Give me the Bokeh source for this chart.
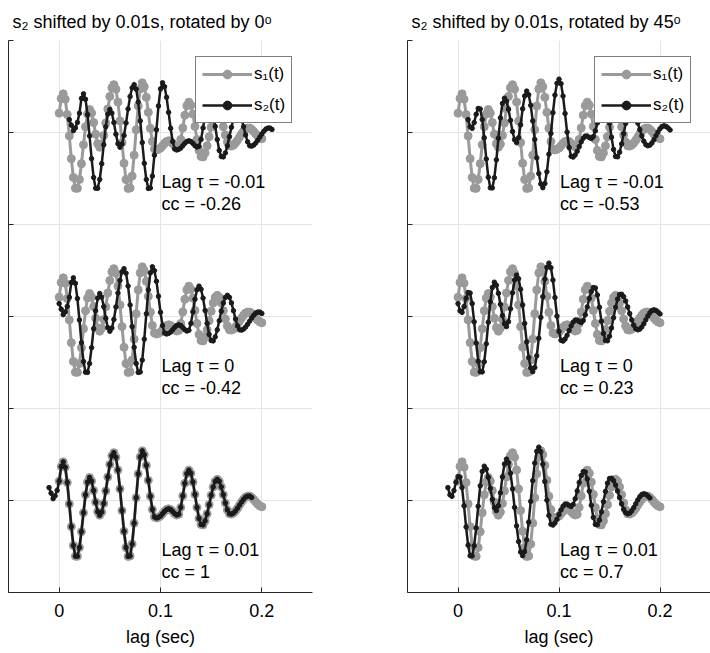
import numpy as np
from bokeh.plotting import figure
from bokeh.layouts import row
from bokeh.models import (Legend, LegendItem, FixedTicker, CustomJSTickFormatter,
                          Range1d)
from bokeh.core.properties import value
from bokeh.embed import file_html
from bokeh.resources import INLINE

# ---------------- data ----------------
dt = 0.002
# s1(t), t = 0 ... 0.2 s
s1 = [0.210, 0.370, 0.420, 0.361, 0.195, -0.037, -0.284, -0.489, -0.605, -0.607,
      -0.511, -0.339, -0.133, 0.062, 0.200, 0.250, 0.211, 0.108, -0.018, -0.121,
      -0.160, -0.126, -0.032, 0.104, 0.256, 0.392, 0.486, 0.520, 0.471, 0.331,
      0.126, -0.110, -0.335, -0.511, -0.608, -0.603, -0.474, -0.246, 0.030, 0.289,
      0.474, 0.540, 0.498, 0.382, 0.219, 0.046, -0.098, -0.179, -0.190, -0.183,
      -0.169, -0.144, -0.118, -0.098, -0.090, -0.098, -0.119, -0.143, -0.158, -0.150,
      -0.075, 0.050, 0.187, 0.291, 0.330, 0.296, 0.200, 0.066, -0.076, -0.195,
      -0.261, -0.265, -0.222, -0.145, -0.046, 0.057, 0.147, 0.208, 0.230, 0.208,
      0.148, 0.063, -0.027, -0.102, -0.144, -0.148, -0.137, -0.114, -0.084, -0.050,
      -0.016, 0.014, 0.037, 0.048, 0.048, 0.033, 0.010, -0.016, -0.040, -0.058,
      -0.068]

# s2(t) shifted by 0.01 s, rotated by 0 deg
s2_rot0 = [0.140, 0.080, 0.020, 0.050, 0.110,
           0.210, 0.370, 0.420, 0.361, 0.195, -0.037, -0.284, -0.489, -0.605, -0.607,
           -0.511, -0.339, -0.133, 0.062, 0.200, 0.250, 0.211, 0.108, -0.018, -0.121,
           -0.160, -0.126, -0.032, 0.104, 0.256, 0.392, 0.486, 0.520, 0.471, 0.331,
           0.126, -0.110, -0.335, -0.511, -0.608, -0.603, -0.474, -0.246, 0.030, 0.289,
           0.474, 0.540, 0.498, 0.382, 0.219, 0.046, -0.098, -0.179, -0.190, -0.183,
           -0.169, -0.144, -0.118, -0.098, -0.090, -0.098, -0.119, -0.143, -0.158, -0.150,
           -0.075, 0.050, 0.187, 0.291, 0.330, 0.296, 0.200, 0.066, -0.076, -0.195,
           -0.261, -0.265, -0.222, -0.145, -0.046, 0.057, 0.147, 0.208, 0.230, 0.208,
           0.148, 0.063, -0.027, -0.102, -0.144, -0.148, -0.137, -0.114, -0.084, -0.050,
           -0.016, 0.014, 0.037, 0.048, 0.048, 0.033]

# s2(t) shifted by 0.01 s, rotated by 45 deg
s2_rot45 = [0.140, 0.062, 0.045, 0.108, 0.198, 0.261, 0.255, 0.140, -0.058, -0.288,
            -0.486, -0.601, -0.602, -0.492, -0.297, -0.062, 0.159, 0.316, 0.373, 0.341,
            0.252, 0.132, 0.011, -0.078, -0.110, -0.057, 0.083, 0.257, 0.397, 0.450,
            0.410, 0.296, 0.126, -0.075, -0.276, -0.446, -0.560, -0.600, -0.555, -0.427,
            -0.236, -0.010, 0.216, 0.407, 0.535, 0.580, 0.531, 0.396, 0.206, 0.004,
            -0.163, -0.258, -0.267, -0.244, -0.204, -0.153, -0.102, -0.062, -0.039, -0.039,
            -0.055, -0.065, -0.043, 0.018, 0.104, 0.196, 0.272, 0.314, 0.310, 0.234,
            0.101, -0.051, -0.184, -0.260, -0.264, -0.214, -0.124, -0.013, 0.099, 0.189,
            0.239, 0.242, 0.216, 0.168, 0.103, 0.032, -0.037, -0.094, -0.132, -0.145,
            -0.137, -0.113, -0.078, -0.036, 0.006, 0.041, 0.065, 0.073, 0.066, 0.049,
            0.028]

lags = [-0.01, 0.0, 0.01]          # top, middle, bottom
offsets = [4, 2, 0]                 # vertical offsets of the three traces
lag_labels = ["Lag τ = -0.01", "Lag τ = 0", "Lag τ = 0.01"]
cc_rot0 = ["cc = -0.26", "cc = -0.42", "cc = 1"]
cc_rot45 = ["cc = -0.53", "cc = 0.23", "cc = 0.7"]
titles = ["s₂ shifted by 0.01s, rotated by 0ᵒ", "s₂ shifted by 0.01s, rotated by 45ᵒ"]
x_ticks = [0, 0.1, 0.2]
y_ticks = [-1, 0, 1, 2, 3, 4, 5]

t = np.arange(len(s1)) * dt

FONT = "Liberation Sans"
GRAY = "#9a9a9a"
BLACK = "#1a1a1a"
AXC = "#262626"


def make_panel(s2, ccs, title, left_border, right_border, width):
    p = figure(width=width, height=653, x_range=Range1d(-0.05, 0.25),
               y_range=Range1d(-1, 5), output_backend="svg", toolbar_location=None,
               min_border_left=left_border, min_border_right=right_border,
               min_border_top=40, min_border_bottom=61)
    p.outline_line_color = None
    p.title.text = title
    p.title.text_font = FONT
    p.title.text_font_size = "18px"
    p.title.text_font_style = "normal"
    p.title.text_color = "black"
    p.title.align = "left"
    p.title.offset = 4
    p.title.standoff = 17

    p.xaxis.ticker = FixedTicker(ticks=x_ticks)
    p.yaxis.ticker = FixedTicker(ticks=y_ticks)
    p.xaxis.formatter = CustomJSTickFormatter(
        code="return (Math.abs(tick) < 1e-9) ? '0' : tick.toFixed(1);")
    p.yaxis.formatter = CustomJSTickFormatter(code="return '';")
    for ax in (p.xaxis, p.yaxis):
        ax.axis_line_color = AXC
        ax.major_tick_line_color = AXC
        ax.major_tick_in = 5
        ax.major_tick_out = 0
        ax.minor_tick_line_color = None
        ax.major_label_text_font = FONT
        ax.major_label_text_font_size = "18px"
        ax.major_label_text_color = "black"
    p.yaxis.major_label_standoff = 0
    p.xaxis.major_label_standoff = 11
    p.xaxis.axis_label = "lag (sec)"
    p.xaxis.axis_label_text_font = FONT
    p.xaxis.axis_label_text_font_size = "18px"
    p.xaxis.axis_label_text_font_style = "normal"
    p.xaxis.axis_label_text_color = "black"
    p.xaxis.axis_label_standoff = 7
    p.grid.grid_line_color = "#e4e4e4"
    p.grid.grid_line_width = 1

    items1, items2 = [], []
    for lag, off, lab, cc in zip(lags, offsets, lag_labels, ccs):
        y1 = np.array(s1) + off
        l1 = p.line(t, y1, line_color=GRAY, line_width=3)
        m1 = p.scatter(t, y1, size=8, fill_color=GRAY, line_color=GRAY, marker="circle")
        x2 = t - lag
        y2 = np.array(s2) + off
        l2 = p.line(x2, y2, line_color=BLACK, line_width=2.5)
        m2 = p.scatter(x2, y2, size=4.5, fill_color=BLACK, line_color=BLACK, marker="circle")
        if not items1:
            items1 = [l1, m1]
            items2 = [l2, m2]
        p.text(x=[0.101], y=[off - 0.54], text=[lab], text_font=value(FONT),
               text_font_size="18px", text_color="black", text_baseline="alphabetic",
               text_align="left")
        p.text(x=[0.101], y=[off - 0.78], text=[cc], text_font=value(FONT),
               text_font_size="18px", text_color="black", text_baseline="alphabetic",
               text_align="left")

    legend = Legend(items=[LegendItem(label="s₁(t)", renderers=items1),
                           LegendItem(label="s₂(t)", renderers=items2)],
                    location=(187, 469))
    legend.label_text_font = FONT
    legend.label_text_font_size = "17px"
    legend.label_text_color = "black"
    legend.glyph_width = 50
    legend.glyph_height = 22
    legend.label_height = 22
    legend.label_standoff = 2
    legend.spacing = 9
    legend.padding = 6
    legend.margin = 0
    legend.border_line_color = "black"
    legend.border_line_width = 1
    legend.background_fill_color = "white"
    legend.background_fill_alpha = 1
    p.add_layout(legend, "center")
    return p


p1 = make_panel(s2_rot0, cc_rot0, titles[0], 8, 43, 355)
p2 = make_panel(s2_rot45, cc_rot45, titles[1], 52, 0, 355)

layout = row(p1, p2)
open("out.html", "w").write(file_html(layout, INLINE))
